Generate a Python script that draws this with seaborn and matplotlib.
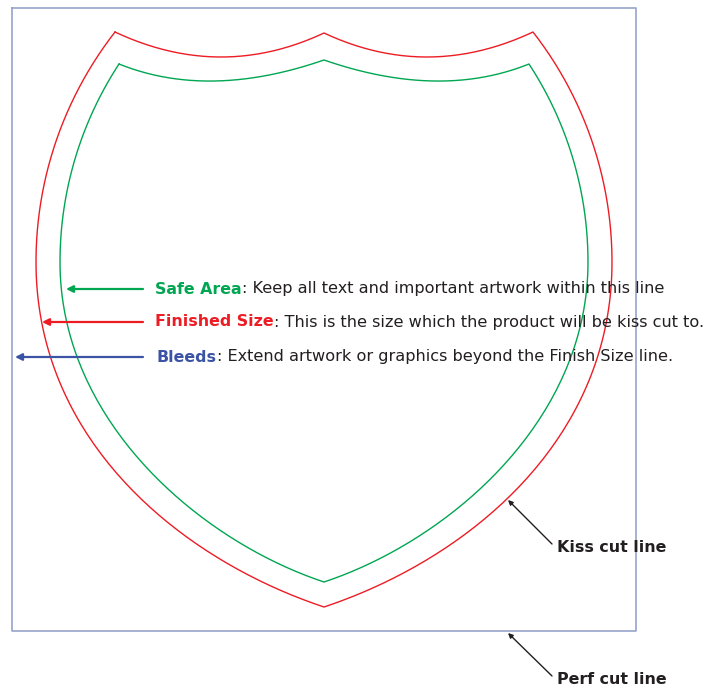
import matplotlib
matplotlib.use("Agg")
import matplotlib.pyplot as plt
import numpy as np
import seaborn as sns

# outline anchors in pixel space (left half, mirrored about x = 324)
mid_x = 324
# top edge: corner, control point, centre cusp (quadratic curve)
red_top = [(115, 32), (220.5, 81.5), (324, 33)]
green_top = [(119, 64), (208.5, 100), (324, 60)]
# upper side: circular arc centre (x, y) and radius, from corner down to widest point
red_upper = (410.3, 262, 374.3)
green_upper = (421.7, 262, 361.7)
# lower side: cubic curve from widest point to the bottom tip
red_lower = [(36, 262), (36, 442), (181.5, 559.6), (324, 607)]
green_lower = [(60, 262), (60, 422), (200.5, 541), (324, 582)]

perf_x = [12, 636, 636, 12, 12]
perf_y = [8, 8, 631, 631, 8]

labels = ["Safe Area", "Finished Size", "Bleeds"]
descs = [": Keep all text and important artwork within this line",
         ": This is the size which the product will be kiss cut to.",
         ": Extend artwork or graphics beyond the Finish Size line."]
label_y = [289, 322, 357]
label_x = [155, 155, 157]
arrow_tip = [66, 42, 15]

RED = "#ed1c24"
GREEN = "#00a651"
BLUE = "#3a53a4"
PERF = "#97a4cc"
DARK = "#231f20"
colors = [GREEN, RED, BLUE]


def bezier(pts, n=80):
    p = np.array(pts, dtype=float)
    t = np.linspace(0, 1, n)[:, None]
    if len(p) == 3:
        return (1 - t) ** 2 * p[0] + 2 * (1 - t) * t * p[1] + t ** 2 * p[2]
    return ((1 - t) ** 3 * p[0] + 3 * (1 - t) ** 2 * t * p[1]
            + 3 * (1 - t) * t ** 2 * p[2] + t ** 3 * p[3])


def arc(upper, corner, n=80):
    cx, cy, r = upper
    a0 = np.arctan2(corner[1] - cy, corner[0] - cx)
    a = np.linspace(a0, -np.pi, n)
    return np.column_stack([cx + r * np.cos(a), cy + r * np.sin(a)])


def shield(top, upper, lower):
    tl = bezier(top)
    up = arc(upper, top[0])
    lo = bezier(lower)[1:]
    left = np.vstack([up, lo])           # corner -> bottom tip
    tr = tl[::-1].copy()
    tr[:, 0] = 2 * mid_x - tr[:, 0]
    right = left.copy()
    right[:, 0] = 2 * mid_x - right[:, 0]
    return np.vstack([tl, tr[1:], right[1:], left[::-1][1:]])


sns.set_style("white")
fig = plt.figure(figsize=(7.09, 6.90), dpi=100)
ax = fig.add_axes([0, 0, 1, 1])

sns.lineplot(x=perf_x, y=perf_y, sort=False, estimator=None, color=PERF, lw=1.2, ax=ax)
for top, up, lo, c in [(red_top, red_upper, red_lower, RED),
                       (green_top, green_upper, green_lower, GREEN)]:
    s = shield(top, up, lo)
    sns.lineplot(x=s[:, 0], y=s[:, 1], sort=False, estimator=None, color=c, lw=1.0, ax=ax)

fs_b, fs_r = 11.45, 11.6
for lab, desc, y, x, tip, c in zip(labels, descs, label_y, label_x, arrow_tip, colors):
    ax.annotate("", xy=(tip, y), xytext=(143, y),
                arrowprops=dict(arrowstyle="-|>", color=c, lw=1.6,
                                mutation_scale=10, shrinkA=0, shrinkB=0))
    t = ax.text(x, y, lab, color=c, fontsize=fs_b, fontweight="bold",
                va="center", ha="left")
    ax.annotate(desc, xy=(1, 0), xycoords=t, va="bottom", ha="left",
                color=DARK, fontsize=fs_r)

for txt, tail, tip in [("Kiss cut line", (552, 544), (508, 500)),
                       ("Perf cut line", (552, 676), (508, 633))]:
    ax.annotate("", xy=tip, xytext=tail,
                arrowprops=dict(arrowstyle="-|>", color=DARK, lw=1.0,
                                mutation_scale=7, shrinkA=0, shrinkB=0))
    ax.text(557, tail[1] + 3, txt, color=DARK, fontsize=fs_b, fontweight="bold",
            va="center", ha="left")

ax.set_xlim(0, 709)
ax.set_ylim(690, 0)
ax.axis("off")
fig.savefig("out.png", dpi=100)
